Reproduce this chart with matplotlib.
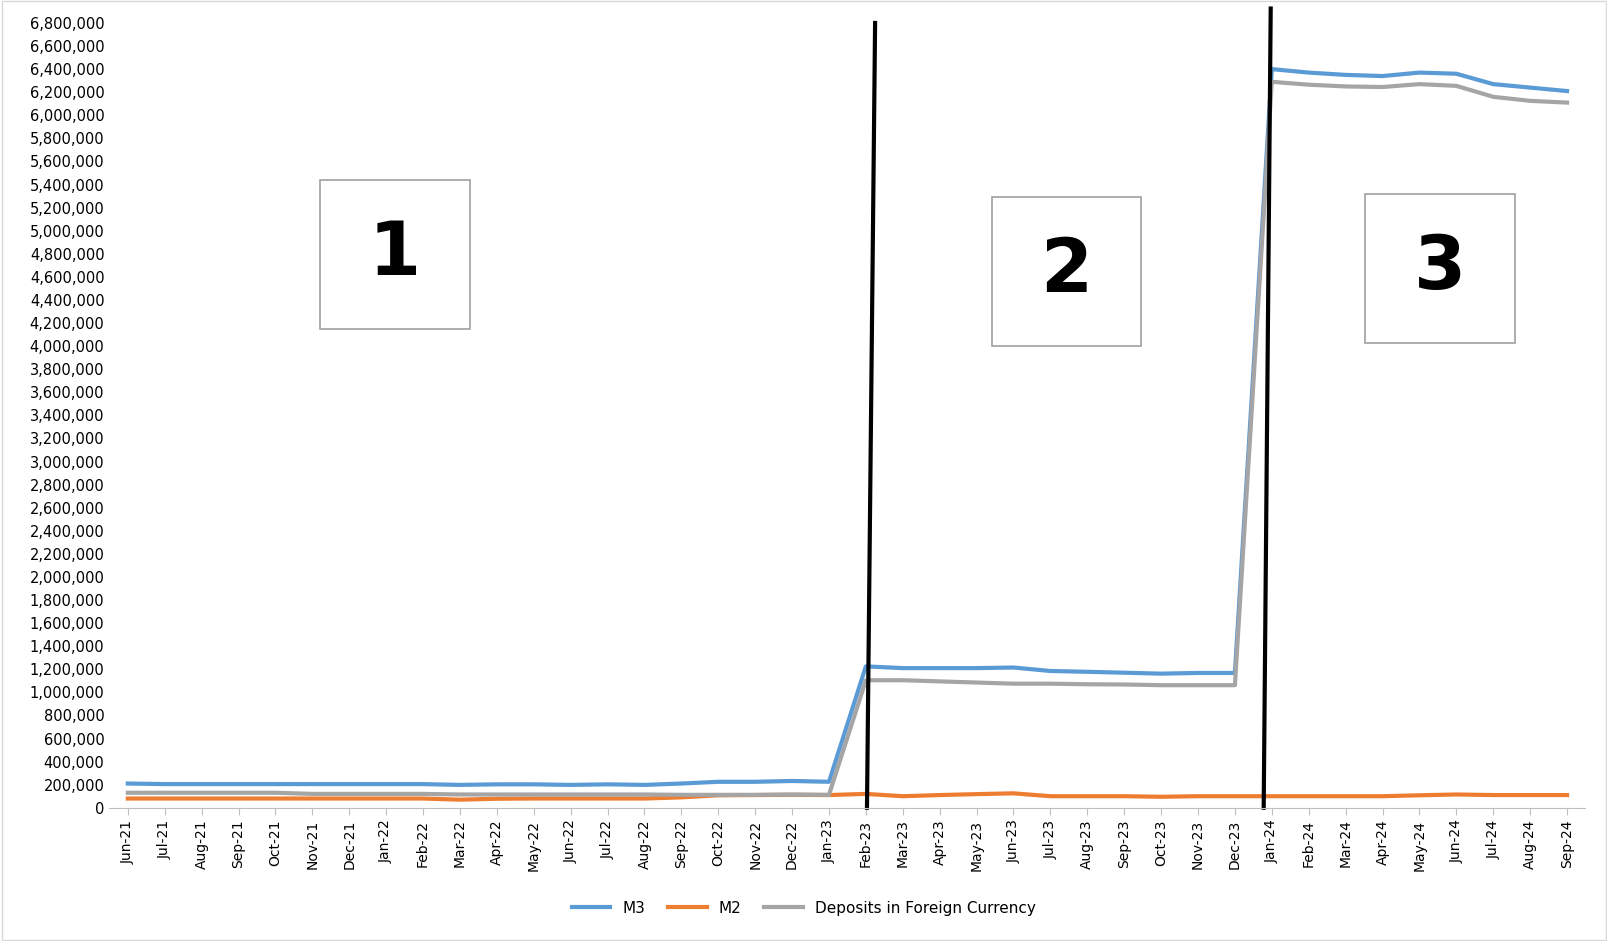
import matplotlib
matplotlib.use("Agg")
import matplotlib.pyplot as plt
from matplotlib.ticker import FuncFormatter, MultipleLocator
from matplotlib.patches import Rectangle

months = ["Jun-21","Jul-21","Aug-21","Sep-21","Oct-21","Nov-21","Dec-21","Jan-22","Feb-22","Mar-22",
          "Apr-22","May-22","Jun-22","Jul-22","Aug-22","Sep-22","Oct-22","Nov-22","Dec-22","Jan-23",
          "Feb-23","Mar-23","Apr-23","May-23","Jun-23","Jul-23","Aug-23","Sep-23","Oct-23","Nov-23",
          "Dec-23","Jan-24","Feb-24","Mar-24","Apr-24","May-24","Jun-24","Jul-24","Aug-24","Sep-24"]
m3 = [210000,205000,205000,205000,205000,205000,205000,205000,205000,198000,
      203000,203000,198000,203000,198000,210000,225000,225000,232000,225000,
      1225000,1210000,1210000,1210000,1215000,1185000,1178000,1170000,1162000,1168000,
      1168000,6400000,6370000,6350000,6340000,6370000,6360000,6270000,6240000,6210000]
m2 = [80000,80000,80000,80000,80000,80000,80000,80000,80000,70000,
      78000,80000,80000,80000,80000,90000,108000,110000,112000,110000,
      120000,100000,110000,118000,125000,100000,100000,100000,95000,100000,
      100000,100000,100000,100000,100000,108000,115000,110000,110000,110000]
dep = [130000,130000,130000,130000,130000,120000,120000,120000,120000,115000,
       115000,115000,115000,115000,115000,112000,112000,112000,115000,112000,
       1105000,1105000,1095000,1085000,1075000,1075000,1070000,1068000,1062000,1062000,
       1062000,6290000,6265000,6250000,6245000,6270000,6255000,6160000,6125000,6110000]

fig = plt.figure(figsize=(16.08, 9.41), dpi=100)
ax = fig.add_axes([0.068, 0.1416, 0.918, 0.834])
x = list(range(len(months)))
ax.plot(x, m3, color="#5B9BD5", lw=3, label="M3")
ax.plot(x, m2, color="#ED7D31", lw=3, label="M2")
ax.plot(x, dep, color="#A5A5A5", lw=3, label="Deposits in Foreign Currency")
ax.set_xlim(-0.5, 39.5)
ax.set_ylim(0, 6800000)
ax.yaxis.set_major_locator(MultipleLocator(200000))
ax.yaxis.set_major_formatter(FuncFormatter(lambda v, p: f"{int(v):,}"))
ax.set_xticks(x)
ax.set_xticklabels(months, rotation=90, fontsize=10)
ax.tick_params(axis="y", labelsize=10.5, length=0)
ax.tick_params(axis="x", length=5, color="#BFBFBF")
for s in ["top", "right", "left"]:
    ax.spines[s].set_visible(False)
ax.spines["bottom"].set_color("#BFBFBF")

# separator lines
ax.plot([20.25, 20.03], [6800000, 0], color="black", lw=3, clip_on=False)
ax.plot([30.97, 30.78], [6925000, 0], color="black", lw=3, clip_on=False)

W, H = 1568, 918
for (x0, y0, x1, y1, t) in [(312,176,458,321,"1"), (967,192,1113,338,"2"), (1331,189,1477,335,"3")]:
    fig.patches.append(Rectangle((x0/W, 1-y1/H), (x1-x0)/W, (y1-y0)/H, transform=fig.transFigure,
                                 fill=True, facecolor="white", edgecolor="#A0A0A0", lw=1.2))
    fig.text((x0+x1)/2/W, 1-(y0+y1)/2/H, t, fontsize=54, fontweight="bold", ha="center", va="center")

fig.legend(loc="center", bbox_to_anchor=(0.5, 1-886/H), ncol=3, frameon=False, fontsize=11,
           handlelength=2.5, columnspacing=1.5)
fig.patches.append(Rectangle((0.001, 0.001), 0.998, 0.998, transform=fig.transFigure, fill=False,
                             edgecolor="#D9D9D9", lw=1))
fig.savefig("out.png", dpi=100)
